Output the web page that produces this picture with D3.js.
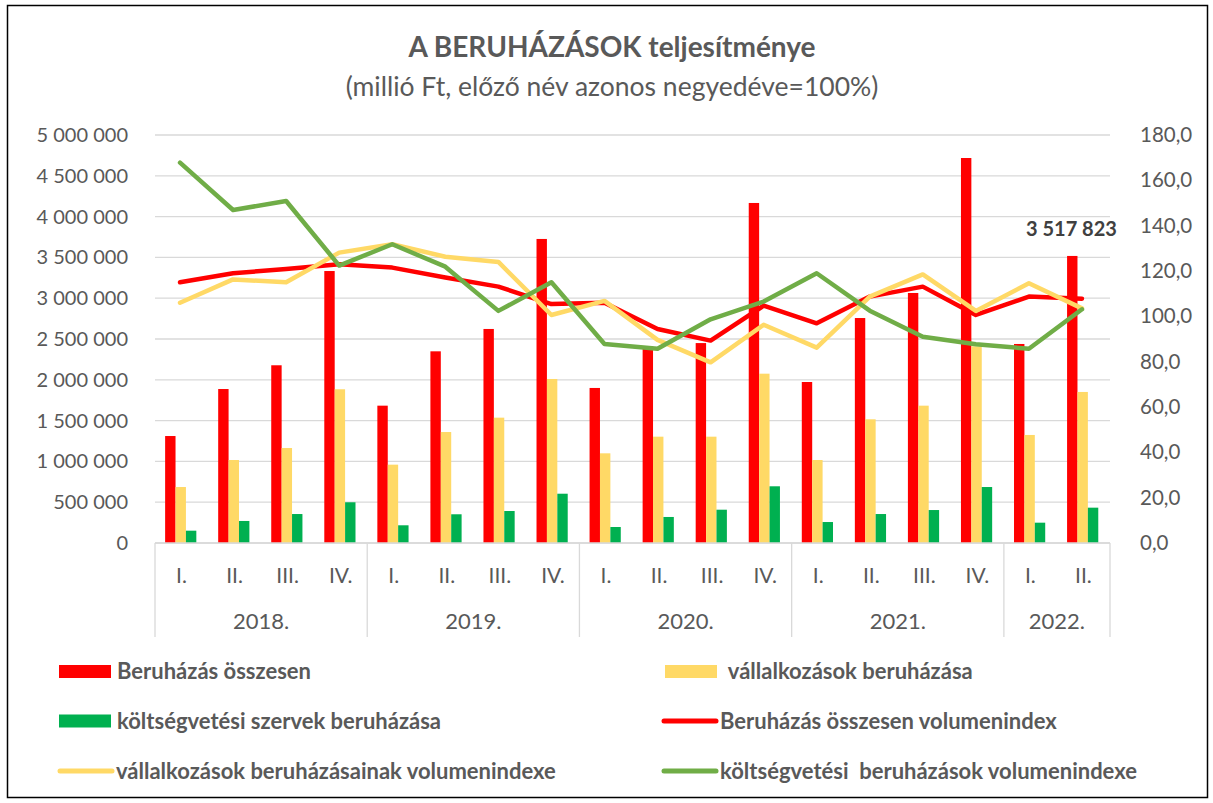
<!DOCTYPE html>
<html>
<head>
<meta charset="utf-8">
<script src="https://cdn.jsdelivr.net/npm/d3@7"></script>
<style>
  body { margin: 0; background: #fff; }
  svg text { font-family: Lato, "Open Sans", sans-serif; }
</style>
</head>
<body>
<div id="chart"></div>
<script>
// A beruházások teljesítménye – oszlopok (millió Ft) + volumenindexek (jobb tengely)

const years = ["2018.", "2019.", "2020.", "2021.", "2022."];
const quarterCounts = [4, 4, 4, 4, 2];
const quarters = ["I.", "II.", "III.", "IV."];

const total = [1311000, 1887000, 2178000, 3333000, 1683000, 2349000, 2623000, 3726000,
  1900000, 2380000, 2450000, 4167000, 1973000, 2757000, 3064000, 4718000, 2439000, 3517823];
const corporate = [686000, 1017000, 1164000, 1884000, 960000, 1360000, 1536000, 2010000,
  1099000, 1303000, 1303000, 2075000, 1017000, 1516000, 1683000, 2410000, 1324000, 1851000];
const budget = [151000, 270000, 355000, 499000, 217000, 352000, 392000, 604000,
  196000, 319000, 408000, 695000, 257000, 355000, 404000, 686000, 249000, 433000];

const totalIndex = [115.0, 119.0, 120.9, 123.0, 121.5, 117.1, 113.1, 105.4, 106.0,
  94.4, 89.3, 104.7, 96.9, 108.7, 113.1, 100.6, 108.7, 107.8];
const corporateIndex = [106.0, 116.3, 115.0, 128.1, 131.8, 126.3, 124.0, 100.6, 106.8,
  89.6, 79.7, 96.3, 86.2, 108.7, 118.5, 102.4, 114.6, 103.5];
const budgetIndex = [167.8, 146.9, 150.9, 122.4, 131.8, 121.9, 102.4, 115.0, 87.8,
  85.7, 98.7, 106.5, 119.0, 102.5, 91.0, 87.7, 85.7, 103.1];

const leftTicks = d3.range(0, 5000001, 500000);
const rightTicks = d3.range(0, 181, 20);

const W = 1213, H = 803;
const m = { left: 155, right: 1110, top: 135, bottom: 543 };
const txt = "#595959";

// categories: one per quarter
const cats = [];
years.forEach((y, yi) => {
  for (let q = 0; q < quarterCounts[yi]; q++) cats.push({ year: y, q: quarters[q], key: y + q });
});

const svg = d3.select("#chart").append("svg")
  .attr("width", W).attr("height", H);

svg.append("rect")
  .attr("x", 7.5).attr("y", 5.5).attr("width", 1200).attr("height", 792)
  .attr("fill", "#fff").attr("stroke", "#000").attr("stroke-width", 1.5);

// title
svg.append("text").attr("x", 612).attr("y", 57).attr("text-anchor", "middle")
  .style("font-size", "28px").style("font-weight", "bold").attr("fill", txt)
  .text("A BERUHÁZÁSOK teljesítménye");
svg.append("text").attr("x", 612).attr("y", 96).attr("text-anchor", "middle")
  .style("font-size", "26.5px").attr("fill", txt)
  .text("(millió Ft, előző név azonos negyedéve=100%)");

const x = d3.scaleBand().domain(cats.map(d => d.key)).range([m.left, m.right]);
const yL = d3.scaleLinear().domain([0, 5000000]).range([m.bottom, m.top]);
const yR = d3.scaleLinear().domain([0, 180]).range([m.bottom, m.top]);

const fmt = v => d3.format(",")(v).replace(/,/g, " ");

// gridlines
svg.append("g").selectAll("line").data(leftTicks).enter().append("line")
  .attr("x1", m.left).attr("x2", m.right)
  .attr("y1", d => yL(d)).attr("y2", d => yL(d))
  .attr("stroke", "#d9d9d9").attr("stroke-width", 1.3);

// left axis
const axL = svg.append("g").attr("transform", `translate(${m.left - 24},0)`)
  .call(d3.axisLeft(yL).tickValues(leftTicks).tickFormat(fmt).tickSize(0));
axL.select(".domain").remove();
axL.selectAll("text").style("font-size", "20px").attr("fill", txt).attr("dx", 0);

// right axis
const axR = svg.append("g").attr("transform", `translate(${m.right + 27},0)`)
  .call(d3.axisRight(yR).tickValues(rightTicks).tickFormat(d => d3.format(".1f")(d).replace(".", ",")).tickSize(0));
axR.select(".domain").remove();
axR.selectAll("text").style("font-size", "20.5px").attr("fill", txt).attr("dx", 0);

// bars
const barW = 10.4;
const series = [
  { vals: total, color: "#ff0000" },
  { vals: corporate, color: "#ffd966" },
  { vals: budget, color: "#00b050" }
];
series.forEach((s, si) => {
  svg.append("g").selectAll("rect").data(cats).enter().append("rect")
    .attr("x", (d, i) => x(d.key) + x.bandwidth() / 2 - 1.5 * barW + si * barW - 0.8)
    .attr("width", barW)
    .attr("y", (d, i) => yL(s.vals[i]))
    .attr("height", (d, i) => m.bottom - yL(s.vals[i]))
    .attr("fill", s.color);
});

// x axis line and separators
svg.append("line").attr("x1", m.left).attr("x2", m.right)
  .attr("y1", m.bottom).attr("y2", m.bottom).attr("stroke", "#d9d9d9").attr("stroke-width", 1.3);

let idx = 0;
const bounds = [m.left];
quarterCounts.forEach(c => { idx += c; bounds.push(x(cats[idx - 1].key) + x.bandwidth()); });
svg.append("g").selectAll("line").data(bounds).enter().append("line")
  .attr("x1", d => d).attr("x2", d => d)
  .attr("y1", m.bottom).attr("y2", 637)
  .attr("stroke", "#d9d9d9").attr("stroke-width", 1.3);

svg.append("g").selectAll("text").data(cats).enter().append("text")
  .attr("x", d => x(d.key) + x.bandwidth() / 2).attr("y", 583)
  .attr("text-anchor", "middle").style("font-size", "21px").attr("fill", txt)
  .text(d => d.q);

svg.append("g").selectAll("text").data(years).enter().append("text")
  .attr("x", (d, i) => (bounds[i] + bounds[i + 1]) / 2).attr("y", 629)
  .attr("text-anchor", "middle").style("font-size", "22px").attr("fill", txt)
  .text(d => d);

// lines
const lines = [
  { vals: totalIndex, color: "#ff0000" },
  { vals: corporateIndex, color: "#ffd966" },
  { vals: budgetIndex, color: "#70ad47" }
];
lines.forEach(l => {
  const line = d3.line()
    .x((d, i) => x(cats[i].key) + x.bandwidth() / 2 - 1.5)
    .y(d => yR(d));
  svg.append("path").datum(l.vals).attr("d", line)
    .attr("fill", "none").attr("stroke", l.color).attr("stroke-width", 4.5)
    .attr("stroke-linejoin", "round").attr("stroke-linecap", "round");
});

// data label on last bar
svg.append("text")
  .attr("x", x(cats[17].key) + x.bandwidth() / 2 - 12).attr("y", yL(total[17]) - 20)
  .attr("text-anchor", "middle").style("font-size", "20px").style("font-weight", "bold")
  .attr("fill", "#404040").text(fmt(total[17]));

// legend
const legend = [
  { label: "Beruházás összesen", color: "#ff0000", type: "bar", x: 59, y: 671.5 },
  { label: " vállalkozások beruházása", color: "#ffd966", type: "bar", x: 665, y: 671.5 },
  { label: "költségvetési szervek beruházása", color: "#00b050", type: "bar", x: 59, y: 721 },
  { label: "Beruházás összesen volumenindex", color: "#ff0000", type: "line", x: 662, y: 721 },
  { label: "vállalkozások beruházásainak volumenindexe", color: "#ffd966", type: "line", x: 58, y: 771 },
  { label: "költségvetési  beruházások volumenindexe", color: "#70ad47", type: "line", x: 662, y: 771 }
];
const lg = svg.append("g").selectAll("g").data(legend).enter().append("g")
  .attr("transform", d => `translate(${d.x},${d.y})`);
lg.filter(d => d.type === "bar").append("rect")
  .attr("x", 0).attr("y", -6.5).attr("width", 52).attr("height", 13).attr("fill", d => d.color);
lg.filter(d => d.type === "line").append("line")
  .attr("x1", 2).attr("x2", 54).attr("y1", 0).attr("y2", 0)
  .attr("stroke", d => d.color).attr("stroke-width", 5).attr("stroke-linecap", "round");
lg.append("text")
  .attr("x", 58).attr("y", 7.5)
  .style("font-size", "22px").style("font-weight", "bold").style("white-space", "pre")
  .attr("fill", "#595959")
  .text(d => d.label);
</script>
</body>
</html>
